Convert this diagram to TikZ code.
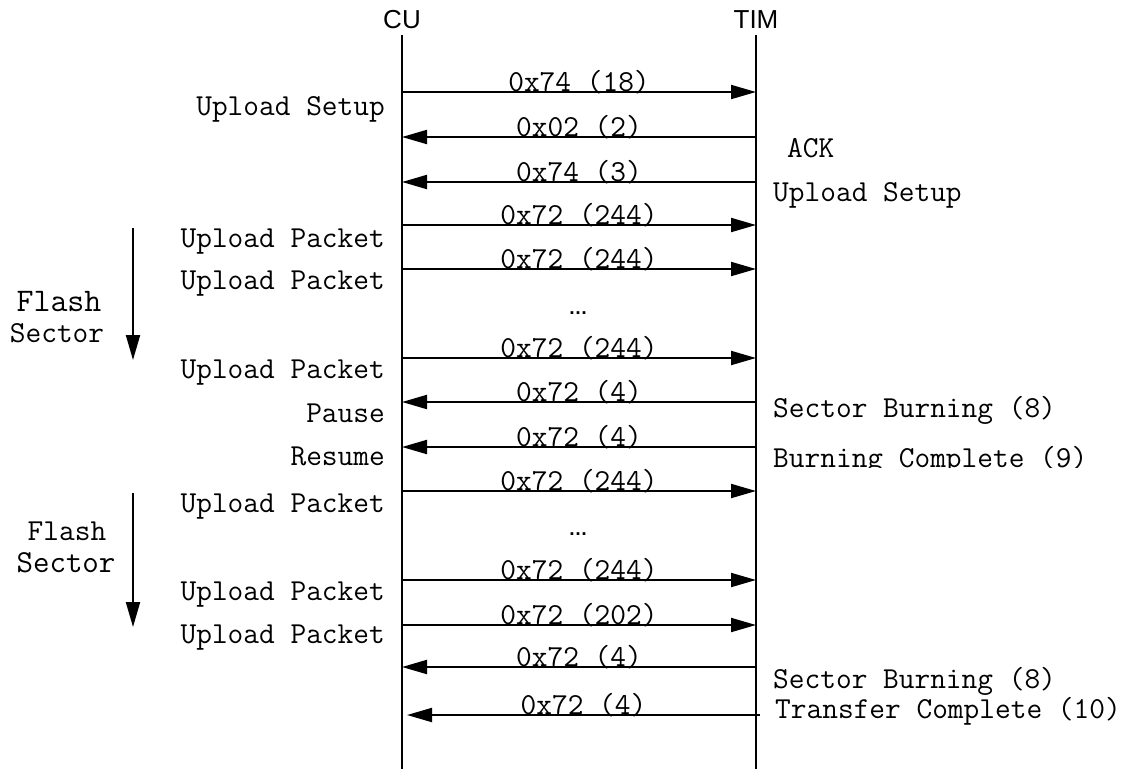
\documentclass[tikz,border=0pt]{standalone}
\usepackage{fontspec}
\setsansfont{Liberation Sans}
\usetikzlibrary{arrows.meta}

\tikzset{
	life/.style={line width=2.5pt},
	msg/.style={line width=2pt,-{Triangle[length=25pt,width=14pt]}},
	lbl/.style={inner sep=0pt,font=\ttfamily\fontsize{30.5}{34}\selectfont},
	who/.style={inner sep=0pt,anchor=base,font=\sffamily\fontsize{26}{30}\selectfont},
	gap/.style={inner sep=0pt,anchor=base,font=\sffamily\bfseries\fontsize{19}{22}\selectfont}
}

\begin{document}
\begin{tikzpicture}[x=1pt,y=-1pt]
	\useasboundingbox (0,0) rectangle (1123,769);
	
	% lifelines
	\node[who] (cu) at (402,28) {CU};
	\node[who] (tim) at (756,28) {TIM};
	\coordinate (cutop) at (402,35);
	\coordinate (cubot) at (402,769);
	\coordinate (timtop) at (756,35);
	\coordinate (timbot) at (756,769);
	\draw[life] (cutop) -- (cubot);
	\draw[life] (timtop) -- (timbot);
	
	% messages: y / from / to / label
	\foreach \y/\a/\b/\txt in {92/c/t/{0x74 (18)}, 137/t/c/{0x02 (2)}, 182/t/c/{0x74 (3)},
		225/c/t/{0x72 (244)}, 269/c/t/{0x72 (244)}, 358/c/t/{0x72 (244)},
		402/t/c/{0x72 (4)}, 447/t/c/{0x72 (4)}, 491/c/t/{0x72 (244)},
		580/c/t/{0x72 (244)}, 625/c/t/{0x72 (202)}, 667/t/c/{0x72 (4)}}{
		\coordinate (c\y) at (402,\y);
		\coordinate (t\y) at (756,\y);
		\draw[msg] (\a\y) -- (\b\y) node[lbl,midway,anchor=base,yshift=1pt] {\txt};
	}
	\coordinate (tlast) at (760,715);
	\coordinate (clast) at (407,715);
	\draw[msg] (tlast) -- (clast) node[lbl,midway,anchor=base,yshift=1pt] {0x72 (4)};
	
	\node[gap] (dots1) at (578,314) {…};
	\node[gap] (dots2) at (578,535) {…};
	
	% CU side
	\foreach \y/\txt in {115/Upload Setup, 247/Upload Packet, 289/Upload Packet,
		378/Upload Packet, 422/Pause, 465/Resume, 512/Upload Packet,
		600/Upload Packet, 643/Upload Packet}{
		\node[lbl,anchor=base east] (cul\y) at (385,\y) {\txt};
	}
	
	% TIM side
	\node[lbl,anchor=base west] (ack) at (787,157) {ACK};
	\node[lbl,anchor=base west] (setup) at (773,201) {Upload Setup};
	\node[lbl,anchor=base west] (burn1) at (773,417) {Sector Burning (8)};
	\begin{scope}
		\clip (760,430) rectangle (1123,467);
		\node[lbl,anchor=base west] (done) at (773,467) {Burning Complete (9)};
	\end{scope}
	\node[lbl,anchor=base west] (burn2) at (773,688) {Sector Burning (8)};
	\node[lbl,anchor=base west] (xfer) at (775,718) {Transfer Complete (10)};
	
	% flash sectors
	\node[lbl,anchor=base,font=\ttfamily\fontsize{33}{36}\selectfont] (flash1) at (59,311) {Flash};
	\node[lbl,anchor=base] (sector1) at (57,342) {Sector};
	\node[lbl,anchor=base] (flash2) at (67,540) {Flash};
	\node[lbl,anchor=base,font=\ttfamily\fontsize{32}{35}\selectfont] (sector2) at (66,572) {Sector};
	\coordinate (fa1) at (133,228);
	\coordinate (fb1) at (133,360);
	\coordinate (fa2) at (133,493);
	\coordinate (fb2) at (133,627);
	\draw[msg] (fa1) -- (fb1);
	\draw[msg] (fa2) -- (fb2);
\end{tikzpicture}
\end{document}
